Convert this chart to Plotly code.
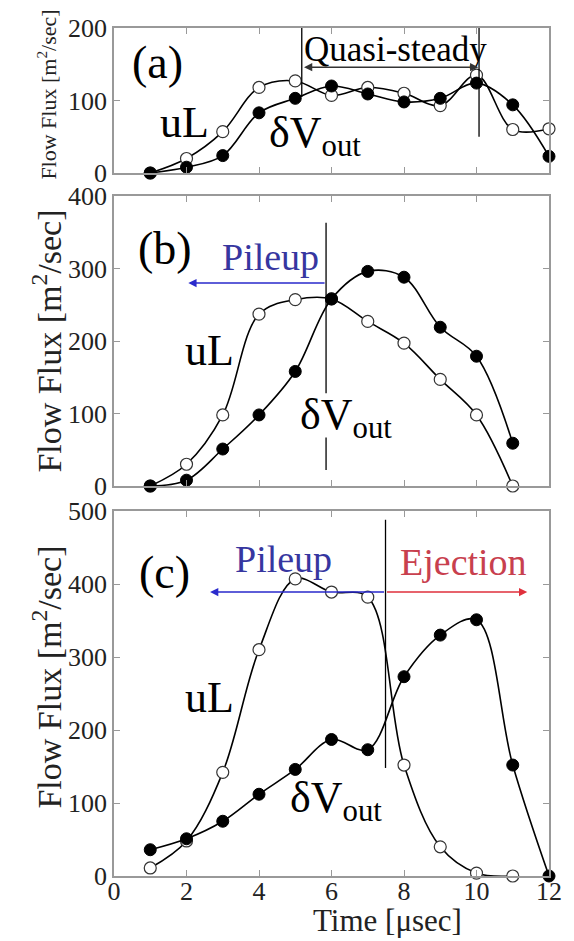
import plotly.graph_objects as go

# ---------------- data ----------------
t_a = [1, 2, 3, 4, 5, 6, 7, 8, 9, 10, 11, 12]
uL_a = [0, 20, 57, 118, 127, 107, 118, 110, 93, 135, 60, 61]
dV_a = [0, 8, 24, 83, 103, 120, 109, 98, 103, 124, 94, 23]

t_b = [1, 2, 3, 4, 5, 6, 7, 8, 9, 10, 11]
uL_b = [0, 30, 98, 237, 257, 258, 227, 197, 147, 98, 0]
dV_b = [0, 8, 51, 98, 158, 258, 296, 288, 219, 179, 59]

t_c_uL = [1, 2, 3, 4, 5, 6, 7, 8, 9, 10, 11]
uL_c = [11, 48, 142, 310, 407, 389, 382, 152, 40, 4, 0]
t_c_dV = [1, 2, 3, 4, 5, 6, 7, 8, 9, 10, 11, 12]
dV_c = [36, 51, 75, 112, 146, 187, 173, 273, 330, 351, 152, 0]

y_ranges = [[0, 200], [0, 400], [0, 500]]
x_range = [0, 12]
x_ticks = [0, 2, 4, 6, 8, 10, 12]

FONT = "Liberation Serif"
W, H = 574, 941
ML, MR, MT, MB = 114, 21, 28, 65

fig = go.Figure()

panels = [
    (t_a, uL_a, t_a, dV_a, "x", "y"),
    (t_b, uL_b, t_b, dV_b, "x2", "y2"),
    (t_c_uL, uL_c, t_c_dV, dV_c, "x3", "y3"),
]
for tu, yu, td, yd, xa, ya in panels:
    fig.add_trace(go.Scatter(
        x=tu, y=yu, mode="lines+markers", xaxis=xa, yaxis=ya,
        line=dict(color="black", width=1.6, shape="spline", smoothing=1.0),
        marker=dict(symbol="circle", size=12, color="white",
                    line=dict(color="#333", width=1.2)),
        cliponaxis=False, showlegend=False))
    fig.add_trace(go.Scatter(
        x=td, y=yd, mode="lines+markers", xaxis=xa, yaxis=ya,
        line=dict(color="black", width=1.6, shape="spline", smoothing=1.0),
        marker=dict(symbol="circle", size=12, color="black",
                    line=dict(color="black", width=1)),
        cliponaxis=False, showlegend=False))

ph = H - MT - MB
def pdom(top_px, bot_px):
    return [(H - MB - bot_px) / ph, (H - MB - top_px) / ph]

axis_common = dict(showline=True, linecolor="#999", linewidth=1.5, mirror="ticks",
                   ticks="inside", ticklen=6, tickcolor="#999", tickwidth=1.2,
                   showgrid=False, zeroline=False,
                   tickfont=dict(family=FONT, size=26, color="#222"))

layout = dict(
    width=W, height=H, margin=dict(l=ML, r=MR, t=MT, b=MB),
    paper_bgcolor="white", plot_bgcolor="white",
    font=dict(family=FONT, color="black"),
)
doms = [pdom(28, 173), pdom(196, 486), pdom(511, 876)]
for i, (dom, yr) in enumerate(zip(doms, y_ranges)):
    s = "" if i == 0 else str(i + 1)
    xa = dict(axis_common, range=x_range, tickvals=x_ticks,
              anchor="y" + s, domain=[0, 1], showticklabels=(i == 2))
    if i == 2:
        xa["ticklabelstandoff"] = -9
    layout["xaxis" + s] = xa
    layout["yaxis" + s] = dict(axis_common, range=yr, dtick=100,
                               anchor="x" + s, domain=dom)
fig.update_layout(**layout)

ann = []
def txt(text, x, y, xr, yr, size, color="black", **kw):
    ann.append(dict(text=text, x=x, y=y, xref=xr, yref=yr, showarrow=False,
                    font=dict(family=FONT, size=size, color=color),
                    xanchor="center", yanchor="middle", **kw))

# panel (a)
txt("(a)", 1.2, 152, "x", "y", 46)
txt("uL", 1.95, 69, "x", "y", 44)
txt("δV<sub>out</sub>", 5.55, 52, "x", "y", 44)
txt("Quasi-steady", 7.76, 170, "x", "y", 35)
# panel (b)
txt("(b)", 1.4, 327, "x2", "y2", 46)
txt("Pileup", 4.33, 316, "x2", "y2", 38, color="#3636a0")
txt("uL", 2.63, 187, "x2", "y2", 44)
txt("δV<sub>out</sub>", 6.41, 95, "x2", "y2", 44)
# panel (c)
txt("(c)", 1.4, 416, "x3", "y3", 46)
txt("Pileup", 4.67, 434, "x3", "y3", 38, color="#3636a0")
txt("Ejection", 9.63, 430, "x3", "y3", 38, color="#c8404e")
txt("uL", 2.63, 244, "x3", "y3", 44)
txt("δV<sub>out</sub>", 6.13, 104, "x3", "y3", 44)

# axis titles
def ytitle(y, size):
    ann.append(dict(text="Flow Flux [m<sup>2</sup>/sec]", x=(46 - ML) / (W - ML - MR),
                    y=y, xref="paper", yref="paper", showarrow=False, textangle=-90,
                    font=dict(family=FONT, size=size, color="#222"),
                    xanchor="center", yanchor="middle"))
ytitle((H - MB - 95) / ph, 22)
ytitle((H - MB - 341) / ph, 34)
ytitle((H - MB - 677) / ph, 34)
ann.append(dict(text="Time [μsec]", x=(390 - ML) / (W - ML - MR), y=(H - MB - 921) / ph,
                xref="paper", yref="paper", showarrow=False,
                font=dict(family=FONT, size=31, color="#222"),
                xanchor="center", yanchor="middle"))

# arrows
def arrow(x0, x1, y, xr, yr, color, both=False):
    ann.append(dict(text="", x=x1, y=y, ax=x0, ay=y, xref=xr, yref=yr,
                    axref=xr, ayref=yr, showarrow=True, arrowhead=2, arrowsize=1.1,
                    arrowwidth=1.5, arrowcolor=color,
                    arrowside="end+start" if both else "end"))
arrow(5.2, 10.05, 146, "x", "y", "#333", both=True)
arrow(5.85, 2.05, 280, "x2", "y2", "#2a2acc")
arrow(7.49, 2.65, 389, "x3", "y3", "#2a2acc")
arrow(7.49, 11.4, 389, "x3", "y3", "#e0303c")
fig.update_layout(annotations=ann)

# vertical marker lines
shapes = []
def vline(x, y0, y1, xr, yr):
    shapes.append(dict(type="line", x0=x, x1=x, y0=y0, y1=y1, xref=xr, yref=yr,
                       line=dict(color="black", width=1.3)))
vline(5.18, 105, 200, "x", "y")
vline(10.07, 50, 200, "x", "y")
vline(5.85, 128, 363, "x2", "y2")
vline(5.85, 22, 67, "x2", "y2")
vline(7.49, 148, 488, "x3", "y3")
fig.update_layout(shapes=shapes)

fig.write_html("out.html")
